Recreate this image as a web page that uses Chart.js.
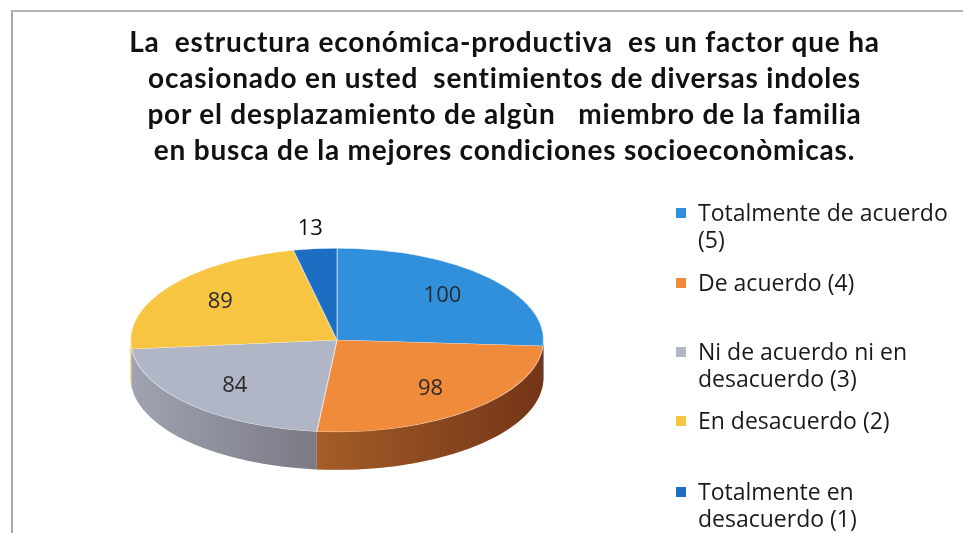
<!DOCTYPE html>
<html>
<head>
<meta charset="utf-8">
<script src="https://cdn.jsdelivr.net/npm/chart.js@4/dist/chart.umd.min.js"></script>
<style>
  html, body { margin: 0; padding: 0; background: #fff; }
  #wrap { position: relative; width: 963px; height: 533px; overflow: hidden; }
  #frame { position: absolute; left: 11px; top: 10px; right: -2px; bottom: -2px;
           border-top: 2px solid #b4b4b4; border-left: 2px solid #a8a8a8; }
  #title { position: absolute; left: 46px; right: 0; top: 23px; text-align: center;
           font: bold 28px Lato, sans-serif; letter-spacing: 0.8px; line-height: 36px; color: #111; white-space: pre; }
  #legend { position: absolute; left: 0; top: 0; }
  .item { position: absolute; left: 676px; font: 23px "Open Sans", sans-serif; line-height: 27px; color: #1a1a1a; }
  .item .sq { position: absolute; left: 0; top: 9px; width: 10px; height: 10px; }
  .item .txt { position: absolute; left: 22px; top: 0; white-space: nowrap; }
  canvas { position: absolute; left: 0; top: 0; }
</style>
</head>
<body>
<div id="wrap">
  <div id="frame"></div>
  <canvas id="pie" width="963" height="533"></canvas>
  <div id="title"></div>
  <div id="legend"></div>
</div>
<script>
const titleLines = [
  'La  estructura económica-productiva  es un factor que ha',
  'ocasionado en usted  sentimientos de diversas indoles',
  'por el desplazamiento de algùn   miembro de la familia',
  'en busca de la mejores condiciones socioeconòmicas.'
];
const categories = [
  ['Totalmente de acuerdo', '(5)'],
  ['De acuerdo (4)'],
  ['Ni de acuerdo ni en', 'desacuerdo (3)'],
  ['En desacuerdo (2)'],
  ['Totalmente en', 'desacuerdo (1)']
];
const values = [100, 98, 84, 89, 13];
const colors = ['#3190dc', '#f08b3c', '#b1b6c7', '#f8c543', '#1b6ec2'];

// layout only
const legendTops = [199, 269, 338, 407, 478];

document.getElementById('title').textContent = titleLines.join('\n');
const legendEl = document.getElementById('legend');
categories.forEach((lines, i) => {
  const it = document.createElement('div');
  it.className = 'item';
  it.style.top = legendTops[i] + 'px';
  it.innerHTML = '<div class="sq" style="background:' + colors[i] + '"></div><div class="txt">' + lines.join('<br>') + '</div>';
  legendEl.appendChild(it);
});

// squash the pie into an ellipse and give it a side wall
const pie3d = {
  id: 'pie3d',
  beforeDatasetsDraw(chart, args, opts) {
    const meta = chart.getDatasetMeta(0);
    const { x, y, outerRadius: R } = meta.data[0];
    const rx = R * opts.stretch, ry = rx * opts.tilt, d = opts.depth;
    const ctx = chart.ctx;
    meta.data.forEach((arc, i) => {
      const a1 = Math.max(arc.startAngle, 0), a2 = Math.min(arc.endAngle, Math.PI);
      if (a2 <= a1) return;
      ctx.save();
      ctx.beginPath();
      ctx.ellipse(x, y, rx, ry, 0, a1, a2);
      ctx.ellipse(x, y + d, rx, ry, 0, a2, a1, true);
      ctx.closePath();
      ctx.fillStyle = colors[i];
      ctx.fill();
      const g = ctx.createLinearGradient(x - rx, 0, x + rx, 0);
      g.addColorStop(0, 'rgba(0,0,0,0.1)');
      g.addColorStop(1, 'rgba(40,0,0,0.62)');
      ctx.fillStyle = g;
      ctx.fill();
      ctx.restore();
    });
    ctx.save();
    ctx.translate(x, y);
    ctx.scale(rx / R, ry / R);
    ctx.translate(-x, -y);
  },
  afterDatasetsDraw(chart, args, opts) {
    const ctx = chart.ctx;
    ctx.restore();
    const meta = chart.getDatasetMeta(0);
    const { x, y, outerRadius: R } = meta.data[0];
    const rx = R * opts.stretch, ry = rx * opts.tilt;
    const total = values.reduce((a, b) => a + b, 0);
    ctx.save();
    ctx.font = '22px "Open Sans", sans-serif';
    ctx.textAlign = 'center';
    ctx.textBaseline = 'middle';
    meta.data.forEach((arc, i) => {
      const mid = (arc.startAngle + arc.endAngle) / 2;
      const small = values[i] / total < 0.05;
      const f = small ? 1.22 : 0.7;
      ctx.fillStyle = small ? '#111' : '#2a2a2a';
      ctx.fillText(String(values[i]), x + rx * f * Math.cos(mid), y + ry * f * Math.sin(mid));
    });
    ctx.restore();
  }
};

new Chart(document.getElementById('pie'), {
  type: 'pie',
  data: {
    labels: categories.map(l => l.join(' ')),
    datasets: [{
      data: values,
      backgroundColor: colors,
      borderColor: 'rgba(255,255,255,0.45)',
      borderWidth: 1
    }]
  },
  options: {
    responsive: false,
    animation: false,
    events: [],
    layout: { padding: { top: 175, bottom: 28, left: 0, right: 289 } },
    plugins: {
      legend: { display: false },
      tooltip: { enabled: false },
      pie3d: { stretch: 1.255, tilt: 0.445, depth: 38 }
    }
  },
  plugins: [pie3d]
});
</script>
</body>
</html>
